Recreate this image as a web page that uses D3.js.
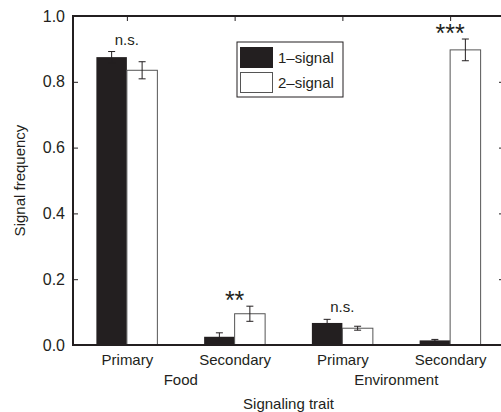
<!DOCTYPE html>
<html>
<head>
<meta charset="utf-8">
<script src="https://cdn.jsdelivr.net/npm/d3@7"></script>
<style>
  body { margin: 0; background: #fff; }
  text { font-family: "Liberation Sans", Arial, sans-serif; fill: #231f20; }
</style>
</head>
<body>
<div id="chart"></div>
<script>
// Data
var categories = ["Primary", "Secondary", "Primary", "Secondary"];
var groups = ["Food", "Environment"];
var seriesNames = ["1\u2013signal", "2\u2013signal"];
var oneSignal = [0.875, 0.025, 0.067, 0.014];
var oneErr = [0.017, 0.012, 0.011, 0.003];
var twoSignal = [0.835, 0.095, 0.051, 0.897];
var twoErr = [0.026, 0.023, 0.006, 0.033];
var sigLabels = ["n.s.", "**", "n.s.", "***"];
var yTicks = [0, 0.2, 0.4, 0.6, 0.8, 1.0];

// Canvas
var w = 501, h = 412;
var m = {left: 73, right: 504, top: 16, bottom: 345};
var ink = "#231f20";

var svg = d3.select("#chart").append("svg")
  .attr("width", w).attr("height", h);

var x = d3.scaleLinear().domain([0.5, 4.5]).range([m.left, m.right]);
var y = d3.scaleLinear().domain([0, 1]).range([m.bottom, m.top]);
var barW = 0.283; // in x units

// ticks (inward, MATLAB style)
var yaxis = d3.axisLeft(y).tickValues(yTicks).tickFormat(d3.format(".1f"))
  .tickSizeInner(-5).tickSizeOuter(0).tickPadding(8);
var gy = svg.append("g").attr("transform", "translate(" + m.left + ",0)").call(yaxis);
gy.select(".domain").remove();
gy.selectAll("text").style("font-size", "16px").style("fill", ink);
gy.selectAll("line").attr("stroke", ink);

var yright = d3.axisRight(y).tickValues(yTicks).tickFormat("")
  .tickSizeInner(-5).tickSizeOuter(0);
var gr = svg.append("g").attr("transform", "translate(" + m.right + ",0)").call(yright);
gr.select(".domain").remove();
gr.selectAll("line").attr("stroke", ink);

var xaxis = d3.axisBottom(x).tickValues([1, 2, 3, 4])
  .tickFormat(function(d, i) { return categories[i]; })
  .tickSizeInner(-5).tickSizeOuter(0).tickPadding(9);
var gx = svg.append("g").attr("transform", "translate(0," + m.bottom + ")").call(xaxis);
gx.select(".domain").remove();
gx.selectAll("text").style("font-size", "15px").style("fill", ink);
gx.selectAll("line").attr("stroke", ink);

var xtop = d3.axisTop(x).tickValues([1, 2, 3, 4]).tickFormat("")
  .tickSizeInner(-5).tickSizeOuter(0);
var gt = svg.append("g").attr("transform", "translate(0," + m.top + ")").call(xtop);
gt.select(".domain").remove();
gt.selectAll("line").attr("stroke", ink);

// bars
var idx = d3.range(categories.length);
svg.selectAll(".bar1").data(idx).enter().append("rect")
  .attr("x", function(i) { return x(i + 1 - barW); })
  .attr("width", function() { return x(1) - x(1 - barW); })
  .attr("y", function(i) { return y(oneSignal[i]); })
  .attr("height", function(i) { return y(0) - y(oneSignal[i]); })
  .attr("fill", ink);

svg.selectAll(".bar2").data(idx).enter().append("rect")
  .attr("x", function(i) { return x(i + 1); })
  .attr("width", function() { return x(1 + barW) - x(1); })
  .attr("y", function(i) { return y(twoSignal[i]); })
  .attr("height", function(i) { return y(0) - y(twoSignal[i]); })
  .attr("fill", "#fff").attr("stroke", "#555").attr("stroke-width", 1);

// error bars
function errBars(vals, errs, offset) {
  var g = svg.append("g").attr("stroke", ink).attr("stroke-width", 1).attr("fill", "none");
  idx.forEach(function(i) {
    var cx = x(i + 1 + offset), cap = 3.5;
    var y0 = y(vals[i] - errs[i]), y1 = y(vals[i] + errs[i]);
    g.append("line").attr("x1", cx).attr("x2", cx).attr("y1", y0).attr("y2", y1);
    g.append("line").attr("x1", cx - cap).attr("x2", cx + cap).attr("y1", y0).attr("y2", y0);
    g.append("line").attr("x1", cx - cap).attr("x2", cx + cap).attr("y1", y1).attr("y2", y1);
  });
}
errBars(oneSignal, oneErr, -barW / 2);
errBars(twoSignal, twoErr, barW / 2);

// significance labels
svg.selectAll(".sig").data(idx).enter().append("text")
  .attr("x", function(i) { return x(i + 1); })
  .attr("y", function(i) {
    var top = Math.max(oneSignal[i] + oneErr[i], twoSignal[i] + twoErr[i]);
    return y(top) - (sigLabels[i].charAt(0) == "*" ? -3 : 7);
  })
  .attr("text-anchor", "middle")
  .style("font-size", function(i) { return sigLabels[i].charAt(0) == "*" ? "25px" : "15px"; })
  .text(function(i) { return sigLabels[i]; });

// frame
svg.append("rect").attr("x", m.left).attr("y", m.top)
  .attr("width", m.right - m.left).attr("height", m.bottom - m.top)
  .attr("fill", "none").attr("stroke", ink).attr("stroke-width", 2);

// group labels
svg.selectAll(".grp").data(groups).enter().append("text")
  .attr("x", function(d, i) { return x(2 * i + 1.5); })
  .attr("y", 385)
  .attr("text-anchor", "middle").style("font-size", "15px")
  .text(function(d) { return d; });

// axis titles
svg.append("text").attr("x", (m.left + m.right) / 2).attr("y", 409)
  .attr("text-anchor", "middle").style("font-size", "15px").text("Signaling trait");
svg.append("text").attr("transform", "translate(25," + ((m.top + m.bottom) / 2) + ") rotate(-90)")
  .attr("text-anchor", "middle").style("font-size", "15px").text("Signal frequency");

// legend
var lg = svg.append("g").attr("transform", "translate(237,42)");
lg.append("rect").attr("width", 106).attr("height", 55)
  .attr("fill", "#fff").attr("stroke", ink).attr("stroke-width", 1);
var fills = [ink, "#fff"];
seriesNames.forEach(function(s, i) {
  lg.append("rect").attr("x", 3.5).attr("y", 5.5 + i * 25).attr("width", 32).attr("height", 20)
    .attr("fill", fills[i]).attr("stroke", i ? "#555" : ink).attr("stroke-width", 1);
  lg.append("text").attr("x", 41).attr("y", 21 + i * 25).style("font-size", "15px").text(s);
});
</script>
</body>
</html>
